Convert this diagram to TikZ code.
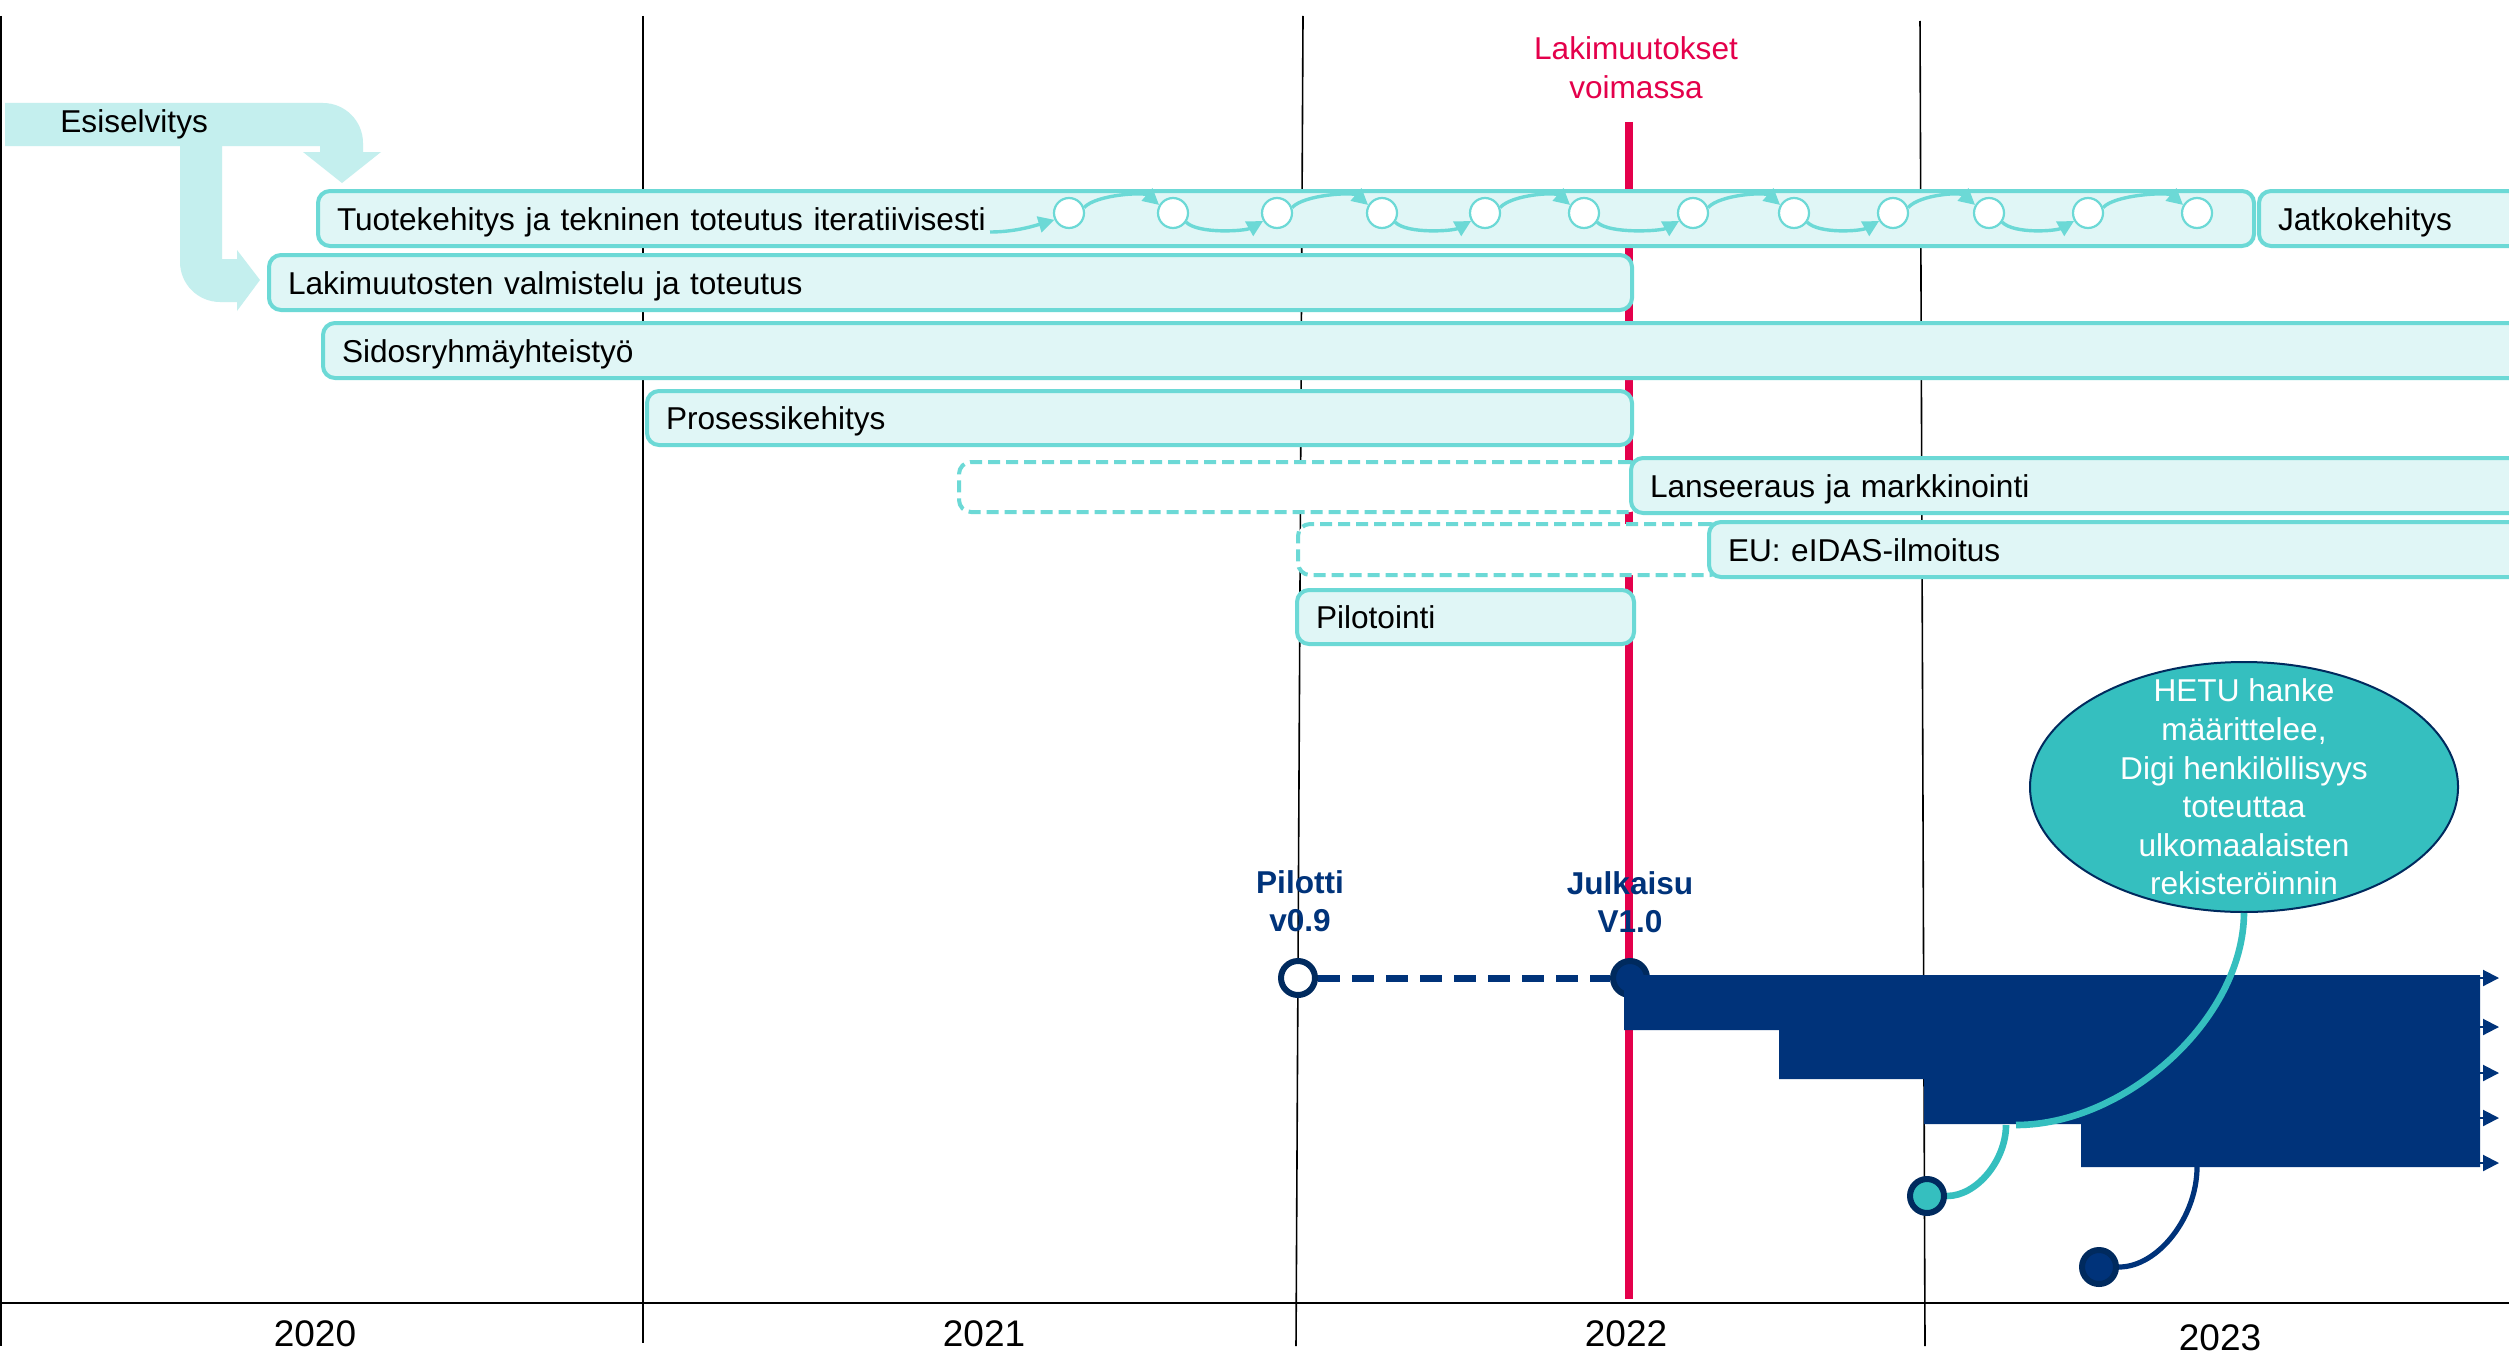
\documentclass[tikz,border=0pt]{standalone}
\usepackage{fontspec}
\setmainfont{Liberation Sans}
\usetikzlibrary{arrows.meta,shapes.geometric}
\definecolor{barfill}{HTML}{E0F6F6}
\definecolor{bord}{HTML}{6CD9D6}
\definecolor{esifill}{HTML}{C4EFEE}
\definecolor{navy}{HTML}{00337A}
\definecolor{navydark}{HTML}{002A5E}
\definecolor{tealc}{HTML}{35BFBF}
\definecolor{lawred}{HTML}{E4004B}
\newcommand\fsmain{\fontsize{15.8}{19.3}\selectfont}
\newcommand\fsyear{\fontsize{18.5}{22}\selectfont}
\pgfdeclarelayer{front}
\pgfsetlayers{main,front}
\begin{document}
\begin{tikzpicture}[x=0.5pt,y=-0.5pt,
  grid/.style={black,line width=0.8pt},
  bar/.style={draw=bord,fill=barfill,line width=2pt,rounded corners=6pt,inner xsep=9.5pt,inner ysep=0pt,text height=11.5pt,text depth=0pt,align=left,anchor=west,font=\fsmain,minimum height=27.5pt},
  ghost/.style={draw=bord,fill=white,line width=2pt,dash pattern=on 6pt off 3pt,rounded corners=6pt,anchor=west,inner sep=0pt,minimum height=25pt},
  dot/.style={circle,draw=bord,fill=white,line width=1.1pt,minimum size=15pt,inner sep=0pt},
  flow/.style={draw=bord,line width=1.7pt,-{Triangle[length=8pt,width=8pt]}},
  ms/.style={circle,draw=navydark,line width=3pt,minimum size=17pt,inner sep=0pt},
  lbl/.style={font=\fsmain\bfseries,text=navy,align=center},
  yr/.style={font=\fsyear,anchor=base,inner sep=0pt}]
\clip (0,0) rectangle (2509,1354);
\fill[white] (0,0) rectangle (2509,1354);
% grid
\coordinate (g1t) at (1,16); \coordinate (g1b) at (1,1346);
\coordinate (g2t) at (643,16); \coordinate (g2b) at (643,1343);
\coordinate (g3t) at (1303,16); \coordinate (g3b) at (1296,1346);
\coordinate (g4t) at (1920,21); \coordinate (g4b) at (1925,1346);
\coordinate (ax1) at (0,1303); \coordinate (ax2) at (2509,1303);
\draw[grid] (g1t) -- (g1b);
\draw[grid] (g2t) -- (g2b);
\draw[grid] (g3t) -- (g3b);
\draw[grid] (g4t) -- (g4b);
\draw[black,line width=1.3pt] (ax1) -- (ax2);
% red line
\coordinate (redtop) at (1629,122); \coordinate (redbot) at (1629,1299);
\draw[lawred,line width=4pt] (redtop) -- (redbot);
\node[font=\fsmain,text=lawred,align=center] (lawlbl) at (1636,68) {Lakimuutokset\\voimassa};
% Esiselvitys arrow
\fill[esifill] (5,103) -- (323,103) .. controls (345,103) and (363,121) .. (363,143)
  -- (363,152) -- (381,152) -- (342,183) -- (303,152) -- (320,152) -- (320,146)
  -- (222,146) -- (222,259) -- (237,259) -- (237,250) -- (260,280) -- (237,311)
  -- (237,302) -- (220,302) .. controls (198,302) and (180,284) .. (180,262)
  -- (180,146) -- (5,146) -- cycle;
\node[font=\fsmain,anchor=base west,inner sep=0pt] (esi) at (60,133) {Esiselvitys};
% bars
\node[bar,text width=949pt] (tk) at (316,218.5) {Tuotekehitys ja tekninen toteutus iteratiivisesti};
\node[bar,text width=152.5pt] (jk) at (2257,218.5) {Jatkokehitys};
\node[bar,text width=662.5pt] (lk) at (267,282.5) {Lakimuutosten valmistelu ja toteutus};
\node[bar,text width=1120.5pt] (sr) at (321,350.5) {Sidosryhmäyhteistyö};
\node[bar,text width=473.5pt,minimum height=27pt] (pk) at (645,418) {Prosessikehitys};
\node[ghost,minimum width=341.5pt] (lmg) at (957,487) {};
\node[bar,text width=466.5pt] (lm) at (1629,485.5) {Lanseeraus ja markkinointi};
\node[ghost,minimum width=212pt,minimum height=25.5pt] (eug) at (1296,549.5) {};
\node[bar,text width=427.5pt] (eu) at (1707,549.5) {EU: eIDAS-ilmoitus};
\node[bar,text width=149.5pt,minimum height=27pt] (po) at (1295,617) {Pilotointi};
% iteration circles
\foreach \i/\x in {1/1069,2/1173,3/1277,4/1382,5/1485,6/1584,7/1693,8/1794,9/1893,10/1989,11/2088,12/2197}
  \node[dot] (c\i) at (\x,213) {};
\coordinate (tkend) at (990,232);
\draw[flow] (tkend) .. controls +(25,0) and +(-20,6) .. (c1.205);
\foreach \a/\b in {1/2,3/4,5/6,7/8,9/10,11/12}
  \draw[flow] (c\a.20) .. controls +(12,-13) and +(-15,-13) .. (c\b.150);
\foreach \a/\b in {2/3,4/5,6/7,8/9,10/11}
  \draw[flow] (c\a.-35) .. controls +(12,12) and +(-18,10) .. (c\b.-150);
% releases
\node[lbl] (pl) at (1300,901) {Pilotti\\v0.9};
\node[lbl] (jl) at (1630,902) {Julkaisu\\V1.0};
\node[ms,fill=white] (pc) at (1298,978) {};
\node[ms,fill=navy] (jc) at (1630,978) {};
\draw[navy,line width=3.5pt,dash pattern=on 11pt off 6pt] (pc) -- (jc);
\fill[navy] (1624,975) -- (2480,975) -- (2480,1167) -- (2081,1167) -- (2081,1124)
  -- (1924,1124) -- (1924,1079) -- (1779,1079) -- (1779,1030) -- (1624,1030) -- cycle;
\foreach \y in {978,1027,1073,1118,1163}
  \draw[navy,line width=1pt,-{Triangle[length=8pt,width=8pt]}] (2470,\y) -- (2499,\y);
% callout
\node[ellipse,draw=navydark,fill=tealc,line width=1pt,minimum width=214pt,minimum height=125pt,inner sep=0pt] (hetu) at (2244,787) {};
\node[font=\fsmain,text=white,align=center] (hetut) at (2244,787) {HETU hanke\\määrittelee,\\Digi henkilöllisyys\\toteuttaa\\ulkomaalaisten\\rekisteröinnin};
\begin{pgfonlayer}{front}
\node[ms,fill=tealc] (tc) at (1927,1196) {};
\node[ms,fill=navy] (dc) at (2099,1267) {};
\end{pgfonlayer}
\coordinate (tA) at (2016,1125);
\coordinate (tB) at (2006,1125);
\coordinate (nA) at (2197,1167);
\draw[tealc,line width=3.3pt] (hetu.south) .. controls (2243,1020) and (2125,1125) .. (tA);
\draw[tealc,line width=3.3pt] (tB) .. controls (2006,1160) and (1977,1196) .. (tc.east);
\draw[navy,line width=2.6pt] (nA) .. controls (2197,1217) and (2158,1267) .. (dc.east);
% years
\node[yr] (y20) at (315,1346) {2020};
\node[yr] (y21) at (984,1346) {2021};
\node[yr] (y22) at (1626,1346) {2022};
\node[yr] (y23) at (2220,1350) {2023};
\end{tikzpicture}
\end{document}
